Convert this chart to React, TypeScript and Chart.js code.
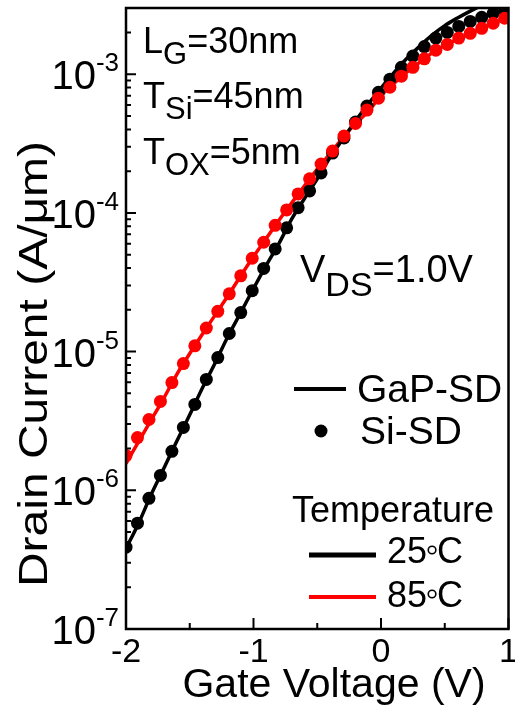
import { useEffect, useRef } from "react";
import { Chart, registerables } from "chart.js";

Chart.register(...registerables);

// Gate voltage grid for the GaP-SD simulation curves (V)
const lineVoltage = [
  -2.0, -1.9, -1.8, -1.7, -1.6, -1.5, -1.4, -1.3, -1.2, -1.1, -1.0, -0.9, -0.8, -0.7, -0.6, -0.5,
  -0.4, -0.3, -0.2, -0.1, 0.0, 0.1, 0.2, 0.3, 0.4, 0.5, 0.6, 0.7, 0.8, 0.9, 1.0,
];
// GaP-SD drain current (A/um) at 25 C
const gap25 = [
  3.8e-7, 5.82e-7, 9.44e-7, 1.46e-6, 2.28e-6, 3.51e-6, 5.48e-6, 8.32e-6, 1.29e-5, 1.91e-5, 2.85e-5,
  4.18e-5, 6.03e-5, 9.04e-5, 1.27e-4, 1.76e-4, 2.51e-4, 3.39e-4, 4.62e-4, 6.1e-4, 7.94e-4, 1.02e-3,
  1.29e-3, 1.58e-3, 1.91e-3, 2.24e-3, 2.54e-3, 2.85e-3, 3.16e-3, 3.47e-3, 3.72e-3,
];
// GaP-SD drain current (A/um) at 85 C
const gap85 = [
  1.56e-6, 2.25e-6, 3.24e-6, 4.68e-6, 6.89e-6, 9.68e-6, 1.34e-5, 1.84e-5, 2.53e-5, 3.52e-5, 4.85e-5,
  6.53e-5, 8.85e-5, 1.18e-4, 1.57e-4, 2.07e-4, 2.67e-4, 3.48e-4, 4.41e-4, 5.37e-4, 7.02e-4, 8.55e-4,
  1.03e-3, 1.21e-3, 1.42e-3, 1.61e-3, 1.79e-3, 1.97e-3, 2.16e-3, 2.37e-3, 2.57e-3,
];

// Gate voltage sample points for the Si-SD device (V)
const siVoltage = [
  -2.0, -1.91, -1.82, -1.73, -1.64, -1.55, -1.46, -1.37, -1.28, -1.19, -1.1, -1.01, -0.92, -0.83,
  -0.74, -0.65, -0.56, -0.47, -0.38, -0.29, -0.2, -0.11, -0.02, 0.07, 0.16, 0.25, 0.34, 0.43, 0.52,
  0.61, 0.7, 0.79, 0.88, 0.97,
];
// Si-SD drain current (A/um) at 25 C
const si25 = [
  3.89e-7, 5.79e-7, 8.75e-7, 1.28e-6, 1.91e-6, 2.84e-6, 4.16e-6, 6.3e-6, 9.06e-6, 1.35e-5, 1.91e-5,
  2.75e-5, 3.98e-5, 5.5e-5, 7.8e-5, 1.09e-4, 1.44e-4, 1.94e-4, 2.7e-4, 3.47e-4, 4.52e-4, 5.89e-4,
  7.41e-4, 9.2e-4, 1.12e-3, 1.35e-3, 1.58e-3, 1.82e-3, 2.0e-3, 2.21e-3, 2.4e-3, 2.57e-3, 2.75e-3,
  2.88e-3,
];
// Si-SD drain current (A/um) at 85 C
const si85 = [
  1.78e-6, 2.4e-6, 3.24e-6, 4.37e-6, 5.98e-6, 8.2e-6, 1.1e-5, 1.48e-5, 1.95e-5, 2.61e-5, 3.52e-5,
  4.71e-5, 6.14e-5, 8.13e-5, 1.05e-4, 1.37e-4, 1.76e-4, 2.25e-4, 2.79e-4, 3.58e-4, 4.41e-4, 5.51e-4,
  6.71e-4, 8.05e-4, 9.68e-4, 1.12e-3, 1.29e-3, 1.49e-3, 1.64e-3, 1.82e-3, 1.97e-3, 2.14e-3, 2.33e-3,
  2.53e-3,
];

// Axis ticks
const xMajorTicks = [-2, -1, 0, 1];
const xMinorTicks = [-1.5, -0.5, 0.5];
const yDecades = [-7, -6, -5, -4, -3];

const BLACK = "#000000";
const RED = "#ff0000";
const FONT = '"Liberation Sans", Arial, Helvetica, sans-serif';

type Part = [string, number, number];

function drawRich(ctx: CanvasRenderingContext2D, parts: Part[], x: number, y: number) {
  let cx = x;
  for (const [text, size, dy] of parts) {
    ctx.font = `${size}px ${FONT}`;
    ctx.fillText(text, cx, y + dy);
    cx += ctx.measureText(text).width;
  }
  return cx;
}

function drawDegreeLabel(ctx: CanvasRenderingContext2D, num: string, x: number, y: number) {
  ctx.font = `36px ${FONT}`;
  ctx.fillText(num, x, y);
  const w = ctx.measureText(num).width;
  ctx.beginPath();
  ctx.lineWidth = 1.6;
  ctx.arc(x + w + 5, y - 13, 3.8, 0, Math.PI * 2);
  ctx.stroke();
  ctx.fillText("C", x + w + 10, y);
}

const axesPlugin = {
  id: "axesAndLabels",
  afterDraw(chart: any) {
    const { ctx, chartArea: a } = chart;
    const xs = chart.scales.x;
    const ys = chart.scales.y;
    ctx.save();
    ctx.strokeStyle = BLACK;
    ctx.fillStyle = BLACK;
    ctx.lineCap = "butt";

    // inward tick marks
    ctx.lineWidth = 2;
    ctx.beginPath();
    for (const v of xMajorTicks) {
      const px = xs.getPixelForValue(v);
      ctx.moveTo(px, a.bottom);
      ctx.lineTo(px, a.bottom - 11);
    }
    for (const v of xMinorTicks) {
      const px = xs.getPixelForValue(v);
      ctx.moveTo(px, a.bottom);
      ctx.lineTo(px, a.bottom - 6);
    }
    const yMax = ys.max;
    for (const e of yDecades) {
      for (let m = 1; m <= 9; m++) {
        const v = m * Math.pow(10, e);
        if (v > yMax) break;
        const py = ys.getPixelForValue(v);
        ctx.moveTo(a.left, py);
        ctx.lineTo(a.left + (m === 1 ? 10 : 5), py);
      }
    }
    ctx.stroke();

    // frame
    ctx.lineWidth = 2.5;
    ctx.strokeRect(a.left, a.top, a.right - a.left, a.bottom - a.top);

    // x tick labels
    ctx.textBaseline = "alphabetic";
    ctx.textAlign = "center";
    ctx.font = `34px ${FONT}`;
    for (const v of xMajorTicks) {
      ctx.fillText(String(v), xs.getPixelForValue(v), a.bottom + 33);
    }

    // y tick labels: 10^n
    for (const e of yDecades) {
      const py = ys.getPixelForValue(Math.pow(10, e));
      ctx.font = `26px ${FONT}`;
      ctx.textAlign = "left";
      const exp = String(e);
      const expW = ctx.measureText(exp).width;
      const right = a.left - 7;
      ctx.fillText(exp, right - expW, py - 3);
      ctx.font = `40px ${FONT}`;
      ctx.textAlign = "right";
      ctx.fillText("10", right - expW, py + 15);
    }

    // axis titles
    ctx.textAlign = "center";
    ctx.font = `41px ${FONT}`;
    ctx.fillText("Gate Voltage (V)", 334, 697);
    ctx.save();
    ctx.translate(47, 364);
    ctx.rotate(-Math.PI / 2);
    ctx.scale(1.17, 1);
    ctx.fillText("Drain Current (A/\u03bcm)", 0, 0);
    ctx.restore();

    // device parameters
    ctx.textAlign = "left";
    drawRich(ctx, [["L", 36, 0], ["G", 31, 11], ["=30nm", 36, 0]], 143, 53);
    drawRich(ctx, [["T", 36, 0], ["Si", 31, 11], ["=45nm", 36, 0]], 143, 108);
    drawRich(ctx, [["T", 36, 0], ["OX", 31, 11], ["=5nm", 36, 0]], 143, 164);
    drawRich(ctx, [["V", 38, 0], ["DS", 34, 14], ["=1.0V", 38, 0]], 300, 282);

    // device legend
    ctx.lineWidth = 4;
    ctx.beginPath();
    ctx.moveTo(294, 389);
    ctx.lineTo(346, 389);
    ctx.stroke();
    ctx.font = `39px ${FONT}`;
    ctx.fillText("GaP-SD", 357, 402);
    ctx.beginPath();
    ctx.arc(321, 431, 6.5, 0, Math.PI * 2);
    ctx.fill();
    ctx.fillText("Si-SD", 360, 444);

    // temperature legend
    ctx.font = `36px ${FONT}`;
    ctx.fillText("Temperature", 292, 522);
    ctx.lineWidth = 5;
    ctx.beginPath();
    ctx.moveTo(309, 555);
    ctx.lineTo(376, 555);
    ctx.stroke();
    ctx.strokeStyle = RED;
    ctx.lineWidth = 4;
    ctx.beginPath();
    ctx.moveTo(309, 597);
    ctx.lineTo(376, 597);
    ctx.stroke();
    ctx.strokeStyle = BLACK;
    drawDegreeLabel(ctx, "25", 387, 563);
    drawDegreeLabel(ctx, "85", 387, 607);

    ctx.restore();
  },
};

const toPoints = (xs: number[], ys: number[]) => xs.map((x, i) => ({ x, y: ys[i] }));

export default function App() {
  const canvasRef = useRef<HTMLCanvasElement | null>(null);

  useEffect(() => {
    const canvas = canvasRef.current;
    if (!canvas) return;
    const chart = new Chart(canvas, {
      type: "line",
      data: {
        datasets: [
          {
            label: "Si-SD 85C",
            data: toPoints(siVoltage, si85),
            showLine: false,
            pointRadius: 6.5,
            pointBackgroundColor: RED,
            pointBorderWidth: 0,
            clip: 0,
          },
          {
            label: "Si-SD 25C",
            data: toPoints(siVoltage, si25),
            showLine: false,
            pointRadius: 6.5,
            pointBackgroundColor: BLACK,
            pointBorderWidth: 0,
            clip: 0,
          },
          {
            label: "GaP-SD 25C",
            data: toPoints(lineVoltage, gap25),
            borderColor: BLACK,
            borderWidth: 3.5,
            pointRadius: 0,
            tension: 0.3,
            clip: 0,
          },
          {
            label: "GaP-SD 85C",
            data: toPoints(lineVoltage, gap85),
            borderColor: RED,
            borderWidth: 3.5,
            pointRadius: 0,
            tension: 0.3,
            clip: 0,
          },
        ],
      },
      options: {
        animation: false,
        responsive: false,
        devicePixelRatio: 1,
        layout: { padding: { left: 126, right: 6, top: 8, bottom: 83 } },
        plugins: { legend: { display: false }, tooltip: { enabled: false } },
        scales: {
          x: { type: "linear", min: -2, max: 1, display: false },
          y: { type: "logarithmic", min: 1e-7, max: 3e-3, display: false },
        },
      },
      plugins: [axesPlugin],
    });
    return () => chart.destroy();
  }, []);

  return (
    <div style={{ position: "absolute", left: 0, top: 0, width: 515, height: 712, background: "#fff" }}>
      <canvas ref={canvasRef} width={515} height={712} />
    </div>
  );
}
